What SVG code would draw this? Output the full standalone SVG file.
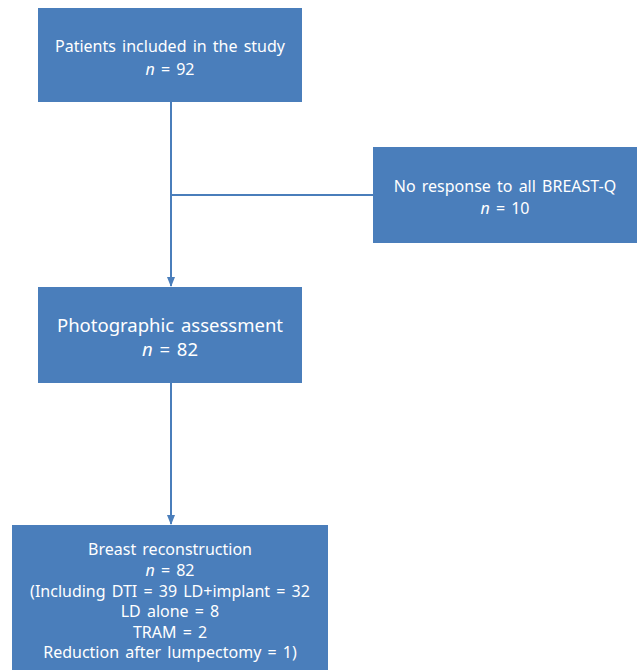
<svg xmlns="http://www.w3.org/2000/svg" width="637" height="670" viewBox="0 0 637 670">
<style>
.box{fill:#4a7ebb;}
.t{font-family:"Noto Sans","Open Sans",sans-serif;fill:#ffffff;text-anchor:middle;font-size:16px;word-spacing:2px;}
.big{font-size:18.5px;}
.c{stroke:#4a7ebb;stroke-width:2;fill:none;}
</style>
<defs>
<marker id="ah" markerWidth="10" markerHeight="8" refX="9" refY="4" orient="auto" markerUnits="userSpaceOnUse">
<path d="M0,0 L10,4 L0,8 z" fill="#4a7ebb"/>
</marker>
</defs>
<rect width="637" height="670" fill="#ffffff"/>
<g id="connectors">
<path class="c" d="M171,102 V286" marker-end="url(#ah)"/>
<path class="c" d="M171,195 H373"/>
<path class="c" d="M171,383 V524" marker-end="url(#ah)"/>
</g>
<g id="n1">
<rect class="box" x="38" y="8" width="264" height="94"/>
<text class="t" x="170" y="52">Patients included in the study</text>
<text class="t" x="170" y="75"><tspan font-style="italic">n</tspan> = 92</text>
</g>
<g id="n2">
<rect class="box" x="373" y="147" width="264" height="96"/>
<text class="t" x="505" y="192">No response to all BREAST-Q</text>
<text class="t" x="505" y="214"><tspan font-style="italic">n</tspan> = 10</text>
</g>
<g id="n3">
<rect class="box" x="38" y="287" width="264" height="96"/>
<text class="t big" x="170" y="332">Photographic assessment</text>
<text class="t big" x="170" y="356"><tspan font-style="italic">n</tspan> = 82</text>
</g>
<g id="n4">
<rect class="box" x="12" y="525" width="316" height="145"/>
<text class="t" x="170" y="555">Breast reconstruction</text>
<text class="t" x="170" y="576"><tspan font-style="italic">n</tspan> = 82</text>
<text class="t" x="170" y="597">(Including DTI = 39 LD+implant = 32</text>
<text class="t" x="170" y="617">LD alone = 8</text>
<text class="t" x="170" y="638">TRAM = 2</text>
<text class="t" x="170" y="658">Reduction after lumpectomy = 1)</text>
</g>
</svg>
